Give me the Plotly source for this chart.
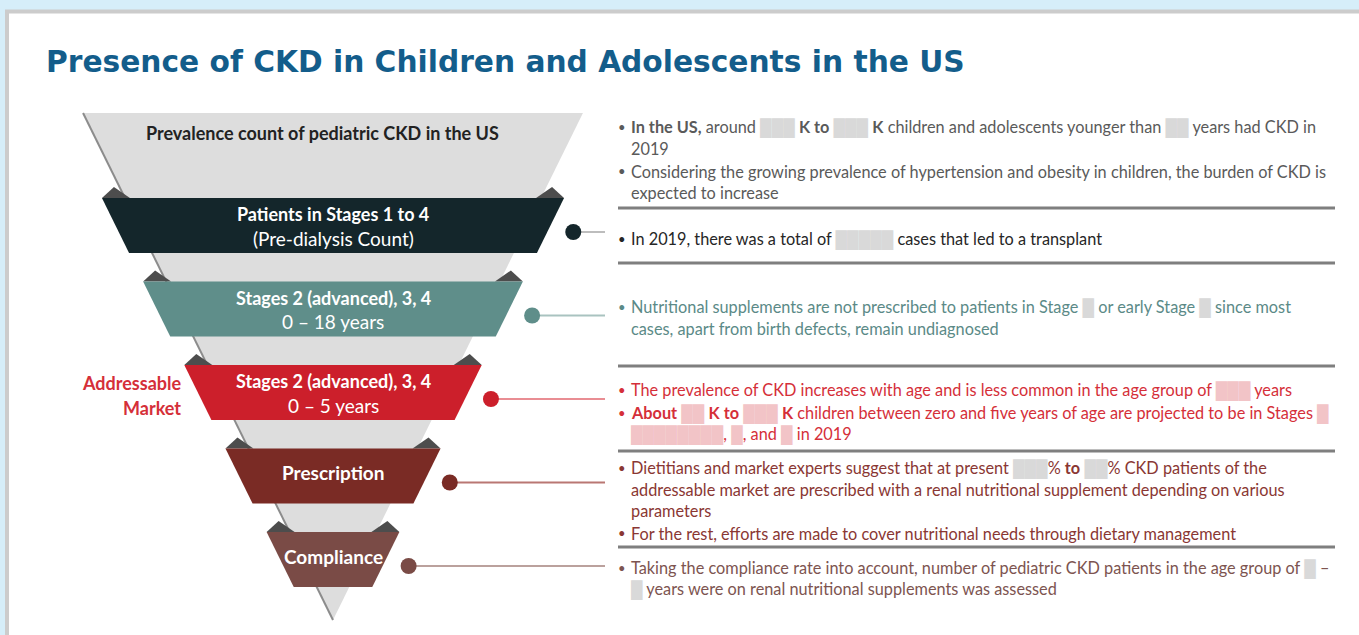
import plotly.graph_objects as go

# ---------------- data ----------------
title_text = "Presence of CKD in Children and Adolescents in the US"
top_label = "Prevalence count of pediatric CKD in the US"
stage_titles = ["Patients in Stages 1 to 4", "Stages 2 (advanced), 3, 4",
                "Stages 2 (advanced), 3, 4", "Prescription", "Compliance"]
stage_subtitles = ["(Pre-dialysis Count)", "0 – 18 years", "0 – 5 years", "", ""]
side_label = ["Addressable", "Market"]

R = "<span style='color:#d9d9d9'>{}</span>"      # redacted figure (grey block)
RP = "<span style='color:#f2c4c7'>{}</span>"     # redacted figure in red block

note_blocks = [
    [["<b>In the US,</b> around " + R.format("███") + " <b>K to</b> " + R.format("███")
      + " <b>K</b> children and adolescents younger than " + R.format("██") + " years had CKD in",
      "2019"],
     ["Considering the growing prevalence of hypertension and obesity in children, the burden of CKD is",
      "expected to increase"]],
    [["In 2019, there was a total of " + R.format("█████") + " cases that led to a transplant"]],
    [["Nutritional supplements are not prescribed to patients in Stage " + R.format("█")
      + " or early Stage " + R.format("█") + " since most",
      "cases, apart from birth defects, remain undiagnosed"]],
    [["The prevalence of CKD increases with age and is less common in the age group of "
      + RP.format("███") + " years"],
     ["<b>About</b> " + RP.format("██") + " <b>K to</b> " + RP.format("███")
      + " <b>K</b> children between zero and five years of age are projected to be in Stages "
      + RP.format("█"),
      RP.format("████████") + ", " + RP.format("█") + ", and " + RP.format("█") + " in 2019"]],
    [["Dietitians and market experts suggest that at present " + R.format("███") + "% <b>to</b> "
      + R.format("██") + "% CKD patients of the",
      "addressable market are prescribed with a renal nutritional supplement depending on various",
      "parameters"],
     ["For the rest, efforts are made to cover nutritional needs through dietary management"]],
    [["Taking the compliance rate into account, number of pediatric CKD patients in the age group of "
      + R.format("█") + " –",
      R.format("█") + " years were on renal nutritional supplements was assessed"]],
]

# ---------------- styles / layout constants ----------------
W, H = 1359, 635
band_colors = ["#14262b", "#5f8e8a", "#cc1f2b", "#7a2b25", "#7a4b46"]
link_colors = ["#bdbdbd", "#a9c3c0", "#e98d93", "#b97773", "#bba19d"]
note_colors = ["#5a5a5a", "#262626", "#5b8a87", "#d52f39", "#8a3733", "#7d5450"]
block_top = [127, 239, 307, 390, 468, 568]
separators_y = [208, 263, 366, 451, 547]
FONT = "Lato, 'Open Sans', sans-serif"
NOTE_SIZE = 16.3
LABEL_SIZE = 19

cx, apex_y, top_y, slope = 333, 620, 113, 0.493
band_top0, band_step, band_h, band_pad = 198, 83.5, 55, 23


def tri_hw(y):
    return (apex_y - y) * slope


def band_hw(y):
    return tri_hw(y) + band_pad


fig = go.Figure()
shapes = []
annotations = []

# card
shapes.append(dict(type="rect", xref="x", yref="y", x0=7, y0=11.5, x1=W + 20, y1=H + 20,
                   fillcolor="white", line=dict(color="#cccccc", width=4), layer="below"))

# funnel triangle
tp = tri_hw(top_y)
shapes.append(dict(type="path", xref="x", yref="y",
                   path=f"M {cx - tp},{top_y} L {cx + tp},{top_y} L {cx},{apex_y} Z",
                   fillcolor="#dddddd", line=dict(width=0), layer="below"))
shapes.append(dict(type="line", xref="x", yref="y", x0=cx - tp, y0=top_y, x1=cx, y1=apex_y,
                   line=dict(color="#8c8c8c", width=2), layer="below"))

dot_x, dot_y = [], []
for i, (t, s) in enumerate(zip(stage_titles, stage_subtitles)):
    y0 = band_top0 + band_step * i
    y1 = y0 + band_h
    h0, h1 = band_hw(y0), band_hw(y1)
    # fold shadows
    for sgn in (-1, 1):
        xe = cx + sgn * h0
        shapes.append(dict(type="path", xref="x", yref="y",
                           path=f"M {xe - sgn * 12},{y0 - 11} L {xe},{y0} L {xe - sgn * 28},{y0} Z",
                           fillcolor="#4d4d4d", line=dict(width=0), layer="below"))
    shapes.append(dict(type="path", xref="x", yref="y",
                       path=f"M {cx - h0},{y0} L {cx + h0},{y0} L {cx + h1},{y1} L {cx - h1},{y1} Z",
                       fillcolor=band_colors[i], line=dict(width=0), layer="below"))
    dy = y0 + 34
    dx = cx + band_hw(dy) + 26
    dot_x.append(dx)
    dot_y.append(dy)
    shapes.append(dict(type="line", xref="x", yref="y", x0=dx, y0=dy, x1=605, y1=dy,
                       line=dict(color=link_colors[i], width=2), layer="below"))
    if s:
        annotations.append(dict(x=cx, y=y0 + 16, text=f"<b>{t}</b>",
                                font=dict(color="white", size=LABEL_SIZE - 1)))
        annotations.append(dict(x=cx, y=y0 + 40, text=s, font=dict(color="white", size=LABEL_SIZE)))
    else:
        annotations.append(dict(x=cx, y=y0 + 24, text=f"<b>{t}</b>",
                                font=dict(color="white", size=LABEL_SIZE)))

fig.add_trace(go.Scatter(x=dot_x, y=dot_y, mode="markers",
                         marker=dict(size=16, color=band_colors, line=dict(width=0)),
                         hoverinfo="skip", showlegend=False))

annotations.append(dict(x=322, y=133, text=f"<b>{top_label}</b>",
                        font=dict(color="#222222", size=LABEL_SIZE - 1)))
for k, txt in enumerate(side_label):
    annotations.append(dict(x=183, y=383 + 25 * k, text=f"<b>{txt}</b>", xanchor="right",
                            font=dict(color="#d52f39", size=LABEL_SIZE - 1)))

# separators
for sy in separators_y:
    shapes.append(dict(type="line", xref="x", yref="y", x0=618, y0=sy, x1=1335, y1=sy,
                       line=dict(color="#7f7f7f", width=3), layer="below"))

# notes
for b, block in enumerate(note_blocks):
    y = block_top[b]
    for bullet in block:
        for j, line in enumerate(bullet):
            if j == 0:
                annotations.append(dict(x=622, y=y, text="•", xanchor="center",
                                        font=dict(color=note_colors[b], size=13)))
            annotations.append(dict(x=629, y=y, text=line, xanchor="left",
                                    font=dict(color=note_colors[b], size=NOTE_SIZE)))
            y += 21
        y += 2

# title
annotations.append(dict(x=44, y=61, text=f"<b>{title_text}</b>", xanchor="left",
                        font=dict(color="#135d8b", size=29.7, family="'DejaVu Sans', sans-serif")))

for a in annotations:
    a.setdefault("xref", "x")
    a.setdefault("yref", "y")
    a.setdefault("showarrow", False)
    a.setdefault("yanchor", "middle")
    a.setdefault("xanchor", "center")
    a["font"].setdefault("family", FONT)

fig.update_layout(
    width=W, height=H, margin=dict(l=0, r=0, t=0, b=0),
    paper_bgcolor="#d6eef9", plot_bgcolor="rgba(0,0,0,0)",
    xaxis=dict(range=[0, W], visible=False, fixedrange=True),
    yaxis=dict(range=[H, 0], visible=False, fixedrange=True),
    shapes=shapes, annotations=annotations, showlegend=False,
)

fig.write_html("out.html", config={"displayModeBar": False},
               post_script="document.body.style.margin='0';document.body.style.overflow='hidden';")
